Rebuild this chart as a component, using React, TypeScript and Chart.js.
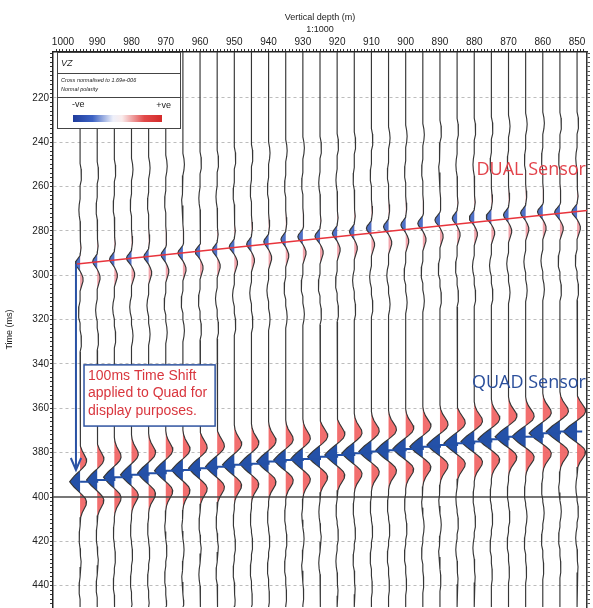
import React, { useEffect, useRef } from 'react';
import { Chart, registerables } from 'chart.js';

Chart.register(...registerables);

// ---------- data ----------
const depths = [995, 990, 985, 980, 975, 970, 965, 960, 955, 950, 945, 940, 935, 930, 925, 920, 915, 910, 905, 900, 895, 890, 885, 880, 875, 870, 865, 860, 855, 850];
// DUAL sensor first-break (trough) times, ms
const dualPicks = [294.6, 293.8, 292.8, 292.3, 291.6, 290.8, 290.0, 289.3, 288.6, 287.1, 286.0, 284.9, 283.8, 282.6, 282.4, 281.1, 280.4, 278.8, 278.1, 277.3, 276.6, 275.1, 274.3, 274.1, 273.6, 272.8, 271.9, 271.4, 271.6, 271.3];
// QUAD sensor trough times (after 100 ms display shift), ms
const quadPicks = [393.1, 392.3, 391.1, 390.0, 389.3, 388.1, 387.8, 387.0, 386.3, 385.5, 385.0, 384.0, 383.3, 382.8, 381.8, 381.0, 380.3, 379.5, 378.9, 378.3, 377.3, 376.5, 375.8, 375.0, 373.9, 372.8, 372.8, 371.2, 370.5, 370.5];
// relative trace amplitudes
const dualAmps = [1.0, 0.95, 1.0, 1.05, 1.0, 1.0, 1.05, 1.0, 1.0, 1.05, 1.0, 1.0, 1.0, 1.05, 1.05, 1.0, 1.0, 1.05, 1.05, 1.0, 1.05, 1.05, 1.0, 1.05, 1.1, 1.05, 1.05, 1.1, 1.1, 1.1];
const quadAmps = [0.76, 0.78, 0.79, 0.8, 0.81, 0.82, 0.83, 0.84, 0.85, 0.86, 0.86, 0.87, 0.88, 0.88, 0.9, 0.9, 0.91, 0.92, 0.93, 0.94, 0.95, 0.95, 0.96, 0.97, 0.98, 0.98, 1.0, 1.0, 1.0, 1.0];

// wavelet shapes (ms offset from trough, normalised amplitude)
const dualWaveOffsets = [-13, -10, -7, -4.5, -3.5, -2, -1, 0, 1, 2, 3.5, 5, 6.5, 8, 10, 12.5];
const dualWaveAmps = [0, 0.12, 0.2, 0.05, 0, -0.5, -0.85, -1, -0.85, -0.5, 0, 0.35, 0.6, 0.62, 0.35, 0];
const quadWaveOffsets = [-18, -16, -14, -12, -10.5, -9, -7.5, -6, -5, -3.7, -2.5, -1.2, 0, 1.2, 2.5, 3.7, 5, 6, 7.5, 9, 10.5, 12, 14, 16, 18];
const quadWaveAmps = [0, 0.06, 0.2, 0.42, 0.58, 0.62, 0.5, 0.22, 0, -0.3, -0.56, -0.8, -1, -0.8, -0.56, -0.3, 0, 0.22, 0.5, 0.62, 0.58, 0.42, 0.2, 0.06, 0];
// weak background wiggles
const weakShapeOffsets = [-5, -2.5, 0, 2.5, 5];
const weakShapeAmps = [0, 0.7, 1, 0.7, 0];
const dualWeakOffsets = [-40, -24, 22, 35];
const dualWeakAmps = [0.3, -0.25, -0.35, 0.3];
const quadWeakOffsets = [25, 36, 48, 61];
const quadWeakAmps = [-0.09, 0.1, -0.1, 0.07];

// axes
const xTickLabels = [1000, 990, 980, 970, 960, 950, 940, 930, 920, 910, 900, 890, 880, 870, 860, 850];
const yTickLabels = [220, 240, 260, 280, 300, 320, 340, 360, 380, 400, 420, 440];
const xMinorTicks: number[] = [];
for (let v = 848; v <= 1002; v++) xMinorTicks.push(v);
const yMinorTicks: number[] = [];
for (let v = 200; v <= 448; v += 2) yMinorTicks.push(v);
const xTitleLines = ['Vertical depth (m)', '1:1000'];
const yTitle = 'Time (ms)';
const DEPTH_MIN = 847.1;
const DEPTH_MAX = 1002.9;
const TIME_MIN = 199.3;
const TIME_MAX = 449.6;

// annotations
const legendTitle = 'VZ';
const legendNotes = ['Cross normalised to 1.69e-006', 'Normal polarity'];
const legendScale = ['-ve', '+ve'];
const shiftNoteLines = ['100ms Time Shift', 'applied to Quad for', 'display purposes.'];
const dualLabel = 'DUAL Sensor';
const quadLabel = 'QUAD Sensor';
const dualLineDepths = [995.9, 847.1];
const dualLineTimes = [294.9, 270.8];
const arrowShaftDepths = [996.2, 996.2];
const arrowShaftTimes = [294.9, 387.8];
const arrowHeadDepths = [997.7, 996.2, 994.7];
const arrowHeadTimes = [382.4, 387.8, 382.4];
const quadPickEndDepth = 848.5;
const zeroLineTime = 400;
const shiftBoxDepths = [993.85, 955.6];
const shiftBoxTimes = [340.4, 368.0];
const dualLabelAt = [847.4, 252.5];
const quadLabelAt = [847.4, 348.6];

// ---------- styling constants ----------
const DUAL_GAIN = 1.4; // metres per unit amplitude
const QUAD_GAIN = 4.0;
const FONT = '"Liberation Sans", Arial, sans-serif';
const dualBlue = 'rgba(48,88,190,0.85)';
const dualRed = 'rgba(236,125,135,0.7)';
const quadBlue = '#2451a8';
const quadRed = 'rgba(241,98,98,0.92)';

type P = { t: number; a: number; k: string };

function eventPoints(center: number, offs: number[], amps: number[], gain: number, k: string): P[] {
  return offs.map((o, j) => ({ t: center + o, a: amps[j] * gain, k }));
}

function traceSamples(i: number): P[] {
  const dg = DUAL_GAIN * dualAmps[i];
  const qg = QUAD_GAIN * quadAmps[i];
  let pts: P[] = [
    { t: TIME_MIN, a: 0, k: 'edge' },
    { t: TIME_MAX, a: 0, k: 'edge' },
  ];
  pts = pts.concat(eventPoints(dualPicks[i], dualWaveOffsets, dualWaveAmps, dg, 'dual'));
  pts = pts.concat(eventPoints(quadPicks[i], quadWaveOffsets, quadWaveAmps, qg, 'quad'));
  dualWeakOffsets.forEach((o, j) => {
    pts = pts.concat(eventPoints(dualPicks[i] + o, weakShapeOffsets, weakShapeAmps, dualWeakAmps[j] * dg, 'weak'));
  });
  quadWeakOffsets.forEach((o, j) => {
    pts = pts.concat(eventPoints(quadPicks[i] + o, weakShapeOffsets, weakShapeAmps, quadWeakAmps[j] * qg, 'weak'));
  });
  pts.sort((p, q) => p.t - q.t);
  return pts;
}

function lineDs(data: any[], color: string, width: number, order: number) {
  return { data, borderColor: color, borderWidth: width, pointRadius: 0, fill: false, order, tension: 0 };
}

function fillDs(data: any[], base: number, color: string) {
  return {
    data,
    borderWidth: 0,
    borderColor: 'rgba(0,0,0,0)',
    backgroundColor: color,
    fill: { value: base },
    pointRadius: 0,
    order: 4,
    tension: 0,
  };
}

function buildDatasets() {
  const ds: any[] = [];
  ds.push(lineDs(arrowShaftDepths.map((d, j) => ({ x: d, y: arrowShaftTimes[j] })), '#2a52a4', 2, 0));
  ds.push(lineDs(arrowHeadDepths.map((d, j) => ({ x: d, y: arrowHeadTimes[j] })), '#2a52a4', 2, 0));
  ds.push(lineDs(dualLineDepths.map((d, j) => ({ x: d, y: dualLineTimes[j] })), '#e8343c', 1.6, 1));
  const quadLine = depths
    .map((d, i) => ({ x: d, y: quadPicks[i] }))
    .concat([{ x: quadPickEndDepth, y: quadPicks[quadPicks.length - 1] }]);
  ds.push({ ...lineDs(quadLine, '#2350a6', 2, 1), stepped: true });
  depths.forEach((d, i) => {
    const pts = traceSamples(i);
    ds.push(lineDs(pts.map((p) => ({ x: d - p.a, y: p.t })), '#363636', 1.15, 3));
    const dual = pts.filter((p) => p.k === 'dual');
    const quad = pts.filter((p) => p.k === 'quad');
    ds.push(fillDs(dual.map((p) => ({ x: d - Math.min(p.a, 0), y: p.t })), d, dualBlue));
    ds.push(fillDs(dual.map((p) => ({ x: d - Math.max(p.a, 0), y: p.t })), d, dualRed));
    ds.push(fillDs(quad.map((p) => ({ x: d - Math.min(p.a, 0), y: p.t })), d, quadBlue));
    ds.push(fillDs(quad.map((p) => ({ x: d - Math.max(p.a, 0), y: p.t })), d, quadRed));
  });
  ds.push(lineDs([{ x: DEPTH_MAX, y: zeroLineTime }, { x: DEPTH_MIN, y: zeroLineTime }], '#4a4a4a', 1.6, 3.5));
  return ds;
}

const overlayPlugin = {
  id: 'overlay',
  afterDatasetsDraw(chart: any) {
    const { ctx, chartArea: ca, scales } = chart;
    const sx = scales.x;
    const sy = scales.y;
    ctx.save();

    // time-shift note box
    const bx0 = sx.getPixelForValue(shiftBoxDepths[0]);
    const bx1 = sx.getPixelForValue(shiftBoxDepths[1]);
    const by0 = sy.getPixelForValue(shiftBoxTimes[0]);
    const by1 = sy.getPixelForValue(shiftBoxTimes[1]);
    ctx.fillStyle = '#ffffff';
    ctx.fillRect(bx0, by0, bx1 - bx0, by1 - by0);
    ctx.strokeStyle = '#2f54a0';
    ctx.lineWidth = 1.5;
    ctx.strokeRect(bx0, by0, bx1 - bx0, by1 - by0);
    ctx.fillStyle = '#d9363e';
    ctx.font = '14px ' + FONT;
    ctx.textAlign = 'left';
    ctx.textBaseline = 'middle';
    shiftNoteLines.forEach((s, k) => ctx.fillText(s, bx0 + 4, by0 + 11 + k * 17.5));

    // sensor labels
    ctx.font = '18px "Open Sans", sans-serif';
    ctx.textAlign = 'right';
    ctx.fillStyle = '#e2434b';
    ctx.fillText(dualLabel, sx.getPixelForValue(dualLabelAt[0]), sy.getPixelForValue(dualLabelAt[1]));
    ctx.fillStyle = '#2b4f9b';
    ctx.fillText(quadLabel, sx.getPixelForValue(quadLabelAt[0]), sy.getPixelForValue(quadLabelAt[1]));

    // colour legend box
    const lx = ca.left + 4;
    const ly = ca.top;
    const lw = 123;
    const lh = 76;
    ctx.fillStyle = '#ffffff';
    ctx.fillRect(lx, ly, lw, lh);
    ctx.strokeStyle = '#444';
    ctx.lineWidth = 1;
    ctx.strokeRect(lx + 0.5, ly + 0.5, lw, lh);
    ctx.beginPath();
    ctx.moveTo(lx, ly + 21.5);
    ctx.lineTo(lx + lw, ly + 21.5);
    ctx.moveTo(lx, ly + 45.5);
    ctx.lineTo(lx + lw, ly + 45.5);
    ctx.stroke();
    ctx.fillStyle = '#222';
    ctx.textAlign = 'left';
    ctx.font = 'italic 9px ' + FONT;
    ctx.fillText(legendTitle, lx + 4, ly + 11);
    ctx.font = 'italic 5.5px ' + FONT;
    ctx.fillText(legendNotes[0], lx + 4, ly + 28);
    ctx.fillText(legendNotes[1], lx + 4, ly + 37);
    ctx.font = '9px ' + FONT;
    ctx.fillText(legendScale[0], lx + 15, ly + 53);
    ctx.textAlign = 'right';
    ctx.fillText(legendScale[1], lx + 114, ly + 54);
    const gx = lx + 16;
    const gw = 89;
    const g = ctx.createLinearGradient(gx, 0, gx + gw, 0);
    g.addColorStop(0, '#1f3c9c');
    g.addColorStop(0.22, '#3d63c4');
    g.addColorStop(0.45, '#eef0fa');
    g.addColorStop(0.55, '#faecec');
    g.addColorStop(0.8, '#e24a4a');
    g.addColorStop(1, '#d42a2a');
    ctx.fillStyle = g;
    ctx.fillRect(gx, ly + 63, gw, 7);
    ctx.restore();
  },
};

const noPadY = (w: number) => (s: any) => {
  s.width = w;
  s.paddingTop = 0;
  s.paddingBottom = 0;
};

export default function App() {
  const ref = useRef<HTMLCanvasElement>(null);
  useEffect(() => {
    Chart.defaults.font.family = FONT;
    const chart = new Chart(ref.current as HTMLCanvasElement, {
      type: 'line',
      data: { datasets: buildDatasets() },
      options: {
        indexAxis: 'y',
        responsive: false,
        animation: false,
        events: [],
        layout: { padding: { left: 0, right: 0, top: 0, bottom: 1 } },
        plugins: { legend: { display: false }, tooltip: { enabled: false } },
        scales: {
          x: {
            type: 'linear',
            position: 'top',
            reverse: true,
            min: DEPTH_MIN,
            max: DEPTH_MAX,
            afterBuildTicks: (s: any) => {
              s.ticks = xMinorTicks.map((v) => ({ value: v }));
            },
            afterFit: (s: any) => {
              s.height = 52;
              s.paddingLeft = 0;
              s.paddingRight = 0;
            },
            ticks: {
              autoSkip: false,
              maxRotation: 0,
              minRotation: 0,
              padding: 1,
              color: '#222',
              font: { size: 10 },
              callback: (v: any) => (xTickLabels.includes(v) ? String(v) : ''),
            },
            grid: { drawOnChartArea: false, tickLength: 3, tickColor: '#333' },
            border: { color: '#222', width: 1.5 },
            title: {
              display: true,
              text: xTitleLines,
              color: '#222',
              font: { size: 9, lineHeight: 1.333 },
              padding: { top: 12, bottom: 0 },
            },
          },
          y: {
            type: 'linear',
            position: 'left',
            reverse: true,
            min: TIME_MIN,
            max: TIME_MAX,
            afterBuildTicks: (s: any) => {
              s.ticks = yMinorTicks.map((v) => ({ value: v }));
            },
            afterFit: noPadY(53),
            ticks: {
              autoSkip: false,
              padding: 1,
              color: '#222',
              font: { size: 10 },
              callback: (v: any) => (yTickLabels.includes(v) ? String(v) : ''),
            },
            grid: {
              color: (c: any) =>
                c.tick && yTickLabels.includes(c.tick.value) && c.tick.value !== zeroLineTime ? '#bdbdbd' : 'rgba(0,0,0,0)',
              lineWidth: 1,
              tickLength: 3,
              tickColor: '#333',
            },
            border: { color: '#222', width: 1.5, dash: [3, 3] },
            title: {
              display: true,
              text: yTitle,
              color: '#222',
              font: { size: 9 },
              padding: { top: 4.6, bottom: 0 },
            },
          },
          yRight: {
            axis: 'y',
            type: 'linear',
            position: 'right',
            reverse: true,
            min: TIME_MIN,
            max: TIME_MAX,
            afterBuildTicks: (s: any) => {
              s.ticks = yMinorTicks.map((v) => ({ value: v }));
            },
            afterFit: noPadY(6),
            ticks: { display: false },
            grid: { drawOnChartArea: false, tickLength: 3, tickColor: '#555' },
            border: { color: '#333', width: 1.5 },
          },
        },
      } as any,
      plugins: [overlayPlugin],
    });
    return () => chart.destroy();
  }, []);
  return (
    <div style={{ position: 'absolute', left: 0, top: 0, width: 593, height: 608, background: '#fff' }}>
      <canvas ref={ref} width={593} height={608} style={{ display: 'block', width: 593, height: 608 }} />
    </div>
  );
}
